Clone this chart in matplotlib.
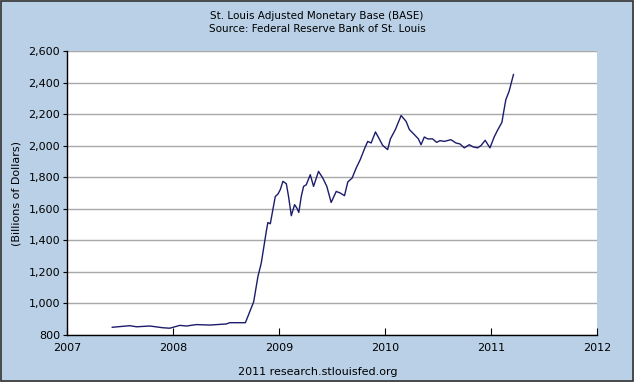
# St. Louis Adjusted Monetary Base, biweekly
import matplotlib
matplotlib.use('Agg')
import matplotlib.pyplot as plt
from matplotlib.patches import Rectangle

plt.rcParams['font.family'] = 'DejaVu Sans'

# data (decimal year, billions of dollars)
years = [2007.427, 2007.593, 2007.656, 2007.782, 2007.904, 2007.970, 2008.064,
         2008.127, 2008.221, 2008.347, 2008.504, 2008.535, 2008.683, 2008.761,
         2008.801, 2008.833, 2008.855, 2008.880, 2008.895, 2008.918, 2008.942,
         2008.965, 2008.990, 2009.012, 2009.037, 2009.069, 2009.090, 2009.116,
         2009.147, 2009.169, 2009.187, 2009.210, 2009.232, 2009.257, 2009.295,
         2009.326, 2009.373, 2009.413, 2009.451, 2009.492, 2009.540, 2009.577,
         2009.618, 2009.649, 2009.690, 2009.728, 2009.766, 2009.806, 2009.837,
         2009.869, 2009.910, 2009.941, 2009.978, 2010.025, 2010.051, 2010.098,
         2010.152, 2010.199, 2010.230, 2010.277, 2010.315, 2010.340, 2010.371,
         2010.402, 2010.449, 2010.487, 2010.519, 2010.559, 2010.622, 2010.669,
         2010.707, 2010.748, 2010.795, 2010.832, 2010.873, 2010.905, 2010.945,
         2010.990, 2011.030, 2011.061, 2011.103, 2011.118, 2011.140, 2011.171,
         2011.212]
base = [849, 859, 852, 857, 846, 843, 861,
        857, 866, 863, 870, 878, 878, 1010,
        1170, 1257, 1350, 1456, 1513, 1505, 1594,
        1678, 1693, 1721, 1774, 1759, 1678, 1556,
        1626, 1604, 1577, 1678, 1742, 1752, 1816,
        1742, 1837, 1795, 1742, 1640, 1710, 1700,
        1683, 1770, 1795, 1858, 1911, 1979, 2027,
        2017, 2087, 2049, 2002, 1975, 2043, 2102,
        2191, 2154, 2102, 2070, 2043, 2006, 2055,
        2043, 2043, 2021, 2032, 2027, 2038, 2017,
        2011, 1986, 2006, 1992, 1986, 2000, 2034,
        1986, 2055, 2097, 2148, 2208, 2292, 2345,
        2451]

yticks = list(range(800, 2601, 200))
xticks = [2007, 2008, 2009, 2010, 2011, 2012]

fig = plt.figure(figsize=(6.34, 3.82), dpi=100, facecolor='#b9d0e6')
ax = fig.add_axes([67/634, 1 - 335/382, 530/634, 284/382])

ax.plot(years, base, color='#1c1c6b', linewidth=1.0)

ax.set_xlim(2007, 2012)
ax.set_ylim(800, 2600)
ax.set_yticks(yticks)
ax.set_yticklabels([f'{v:,}' for v in yticks])
ax.set_xticks(xticks)
ax.set_xticklabels([str(v) for v in xticks])
ax.grid(axis='y', color='#a8a8a8', linewidth=1.0)
ax.set_axisbelow(True)

for s in ['top', 'right']:
    ax.spines[s].set_visible(False)
for s in ['left', 'bottom']:
    ax.spines[s].set_color('black')
    ax.spines[s].set_linewidth(1.0)

ax.tick_params(axis='y', direction='out', length=3, labelsize=8, pad=2)
ax.tick_params(axis='x', direction='in', length=5, labelsize=8, pad=6)

ax.set_ylabel('(Billions of Dollars)', size=8, labelpad=5)

fig.text(0.5, 1 - 16/382, 'St. Louis Adjusted Monetary Base (BASE)',
         ha='center', va='center', size=7.5)
fig.text(0.5, 1 - 29/382, 'Source: Federal Reserve Bank of St. Louis',
         ha='center', va='center', size=7.5)
fig.text(318/634, 1 - 372/382, '2011 research.stlouisfed.org',
         ha='center', va='center', size=8)

fig.patches.append(Rectangle((0.001, 0.002), 0.997, 0.996, transform=fig.transFigure,
                             fill=False, edgecolor='#333333', linewidth=1.2))

fig.savefig('out.png', dpi=100, facecolor=fig.get_facecolor())
